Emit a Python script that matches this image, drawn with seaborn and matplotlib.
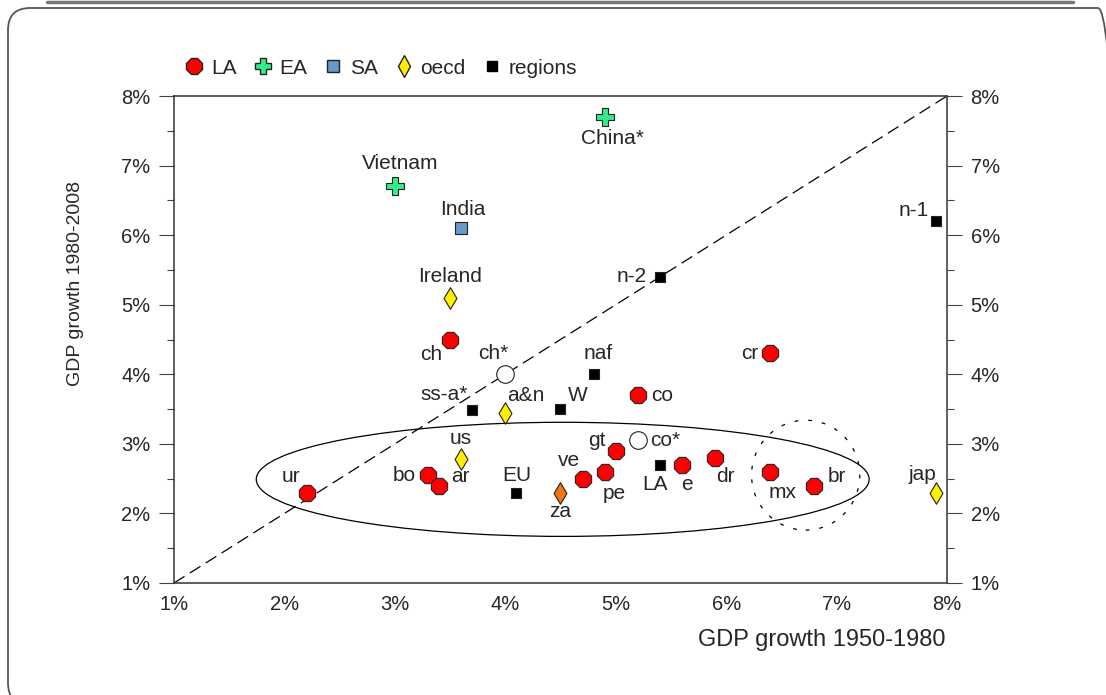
import numpy as np
import pandas as pd
import matplotlib
matplotlib.use("Agg")
import matplotlib.pyplot as plt
import seaborn as sns
from matplotlib.patches import Ellipse, FancyBboxPatch
from matplotlib.lines import Line2D
from matplotlib.ticker import MultipleLocator, FuncFormatter

sns.set_style("white")
plt.rcParams['font.family'] = ['Liberation Sans', 'DejaVu Sans']

# --- data (GDP growth %, 1950-1980 vs 1980-2008) ---
la_names = ["ur", "bo", "ar", "ch", "ve", "pe", "gt", "co", "e", "dr", "mx", "br", "cr"]
la_x = [2.2, 3.3, 3.4, 3.5, 4.7, 4.9, 5.0, 5.2, 5.6, 5.9, 6.4, 6.8, 6.4]
la_y = [2.3, 2.55, 2.4, 4.5, 2.5, 2.6, 2.9, 3.7, 2.7, 2.8, 2.6, 2.4, 4.3]

star_names = ["ch*", "co*"]
star_x = [4.0, 5.2]
star_y = [4.0, 3.05]

ea_names = ["Vietnam", "China*"]
ea_x = [3.0, 4.9]
ea_y = [6.7, 7.7]

sa_names = ["India"]
sa_x = [3.6]
sa_y = [6.1]

oecd_names = ["Ireland", "a&n", "us", "jap"]
oecd_x = [3.5, 4.0, 3.6, 7.9]
oecd_y = [5.1, 3.45, 2.78, 2.3]

za_names = ["za"]
za_x = [4.5]
za_y = [2.3]

reg_names = ["n-1", "n-2", "naf", "W", "ss-a*", "EU", "LA"]
reg_x = [7.9, 5.4, 4.8, 4.5, 3.7, 4.1, 5.4]
reg_y = [6.2, 5.4, 4.0, 3.5, 3.48, 2.3, 2.7]

# label offsets in pixels (dx, dy)
label_offsets = {
    "ur": (-16, 16), "bo": (-24, 0), "ar": (21, 9), "ch": (-19, -15),
    "ch*": (-12, 21), "ss-a*": (-28, 16), "a&n": (21, 17), "W": (17, 14),
    "naf": (4, 21), "co": (24, 0), "co*": (27, 0), "gt": (-19, 10),
    "ve": (-14, 18), "pe": (10, -22), "EU": (0, 17), "za": (0, -19),
    "LA": (-5, -20), "e": (5, -20), "dr": (10, -19), "mx": (12, -21),
    "br": (22, 9), "cr": (-21, 0), "jap": (-14, 18), "us": (0, 21),
    "Ireland": (0, 21), "India": (2, 19), "Vietnam": (5, 23),
    "China*": (8, -22), "n-2": (-28, 0), "n-1": (-22, 11),
}

groups = [
    (la_names, la_x, la_y, "8", "#ff0000", 160),
    (star_names, star_x, star_y, "o", "white", 160),
    (ea_names, ea_x, ea_y, "P", "#33ee88", 150),
    (sa_names, sa_x, sa_y, "s", "#6699cc", 70),
    (oecd_names, oecd_x, oecd_y, "d", "#ffee00", 120),
    (za_names, za_x, za_y, "d", "#ee7711", 120),
    (reg_names, reg_x, reg_y, "s", "black", 60),
]

fig = plt.figure(figsize=(11.06, 6.95), dpi=100)
ax = fig.add_axes([174 / 1106, 1 - 583 / 695, (947 - 174) / 1106, (583 - 96) / 695])

# frame around the figure
fig.patches.append(FancyBboxPatch((8 / 1106, -10 / 695), 1112 / 1106, (695 - 8 + 10) / 695,
                                  boxstyle="round,pad=0,rounding_size=0.02",
                                  transform=fig.transFigure, fill=False,
                                  edgecolor="#555555", linewidth=1.3, mutation_aspect=1.59))
fig.lines.append(Line2D([47 / 1106, 1073 / 1106], [1 - 1.5 / 695, 1 - 1.5 / 695],
                        transform=fig.transFigure, color="#777777", linewidth=2.5))

# diagonal
ax.plot([1, 8], [1, 8], color="black", linewidth=0.9, dashes=(10, 5), zorder=1)

# ellipses
ax.add_patch(Ellipse((4.52, 2.49), 5.55, 1.64, fill=False, edgecolor="black", linewidth=0.9, zorder=1))
ax.add_patch(Ellipse((6.72, 2.55), 0.98, 1.58, fill=False, edgecolor="black", linewidth=0.9,
                     linestyle=(0, (3, 8)), zorder=1))

for names, xs, ys, mk, col, size in groups:
    df = pd.DataFrame({"x": xs, "y": ys, "name": names})
    sns.scatterplot(data=df, x="x", y="y", marker=mk, color=col, s=size,
                    edgecolor="#222222", linewidth=0.8, ax=ax, legend=False, zorder=3)
    for n, xv, yv in zip(names, xs, ys):
        dx, dy = label_offsets[n]
        ax.annotate(n, (xv, yv), xytext=(dx, dy), textcoords="offset pixels",
                    ha="center", va="center", fontsize=15)

ax.set_xlim(1, 8)
ax.set_ylim(1, 8)
pct = FuncFormatter(lambda v, p: f"{v:.0f}%")
ax.xaxis.set_major_locator(MultipleLocator(1))
ax.xaxis.set_minor_locator(MultipleLocator(0.5))
ax.yaxis.set_major_locator(MultipleLocator(1))
ax.yaxis.set_minor_locator(MultipleLocator(0.5))
ax.xaxis.set_major_formatter(pct)
ax.yaxis.set_major_formatter(pct)

ax.tick_params(axis="x", which="major", direction="in", length=7, width=0.8, color="#444444",
               pad=9, labelsize=14.5, top=False)
ax.tick_params(axis="x", which="minor", direction="in", length=3.5, width=0.8, color="#444444", top=False)
ax.tick_params(axis="y", which="major", direction="out", length=11, width=0.8, color="#444444",
               pad=6, labelsize=14.5, left=True, right=True, labelright=True)
ax.tick_params(axis="y", which="minor", direction="out", length=5, width=0.8, color="#444444",
               left=True, right=True)
for sp in ax.spines.values():
    sp.set_visible(True)
    sp.set_color("#333333")
    sp.set_linewidth(1.1)

ax.set_xlabel("")
ax.set_ylabel("")
fig.text(945 / 1106, 1 - 640 / 695, "GDP growth 1950-1980", ha="right", va="center", fontsize=17)
fig.text(76 / 1106, 1 - 284 / 695, "GDP growth 1980-2008", ha="center", va="center",
         rotation=90, fontsize=14)

handles = [
    Line2D([], [], linestyle="none", marker="8", markersize=13, markerfacecolor="#ff0000",
           markeredgecolor="#222222", label="LA"),
    Line2D([], [], linestyle="none", marker="P", markersize=12, markerfacecolor="#33ee88",
           markeredgecolor="#222222", label="EA"),
    Line2D([], [], linestyle="none", marker="s", markersize=8, markerfacecolor="#6699cc",
           markeredgecolor="#222222", label="SA"),
    Line2D([], [], linestyle="none", marker="d", markersize=11, markerfacecolor="#ffee00",
           markeredgecolor="#222222", label="oecd"),
    Line2D([], [], linestyle="none", marker="s", markersize=7, markerfacecolor="black",
           markeredgecolor="black", label="regions"),
]
fig.legend(handles=handles, loc="center left", bbox_to_anchor=(183 / 1106, 1 - 68 / 695),
           ncol=5, frameon=False, fontsize=15, handletextpad=0.25, columnspacing=0.7,
           handlelength=1.1, borderaxespad=0, borderpad=0)

fig.savefig("out.png", dpi=100)
